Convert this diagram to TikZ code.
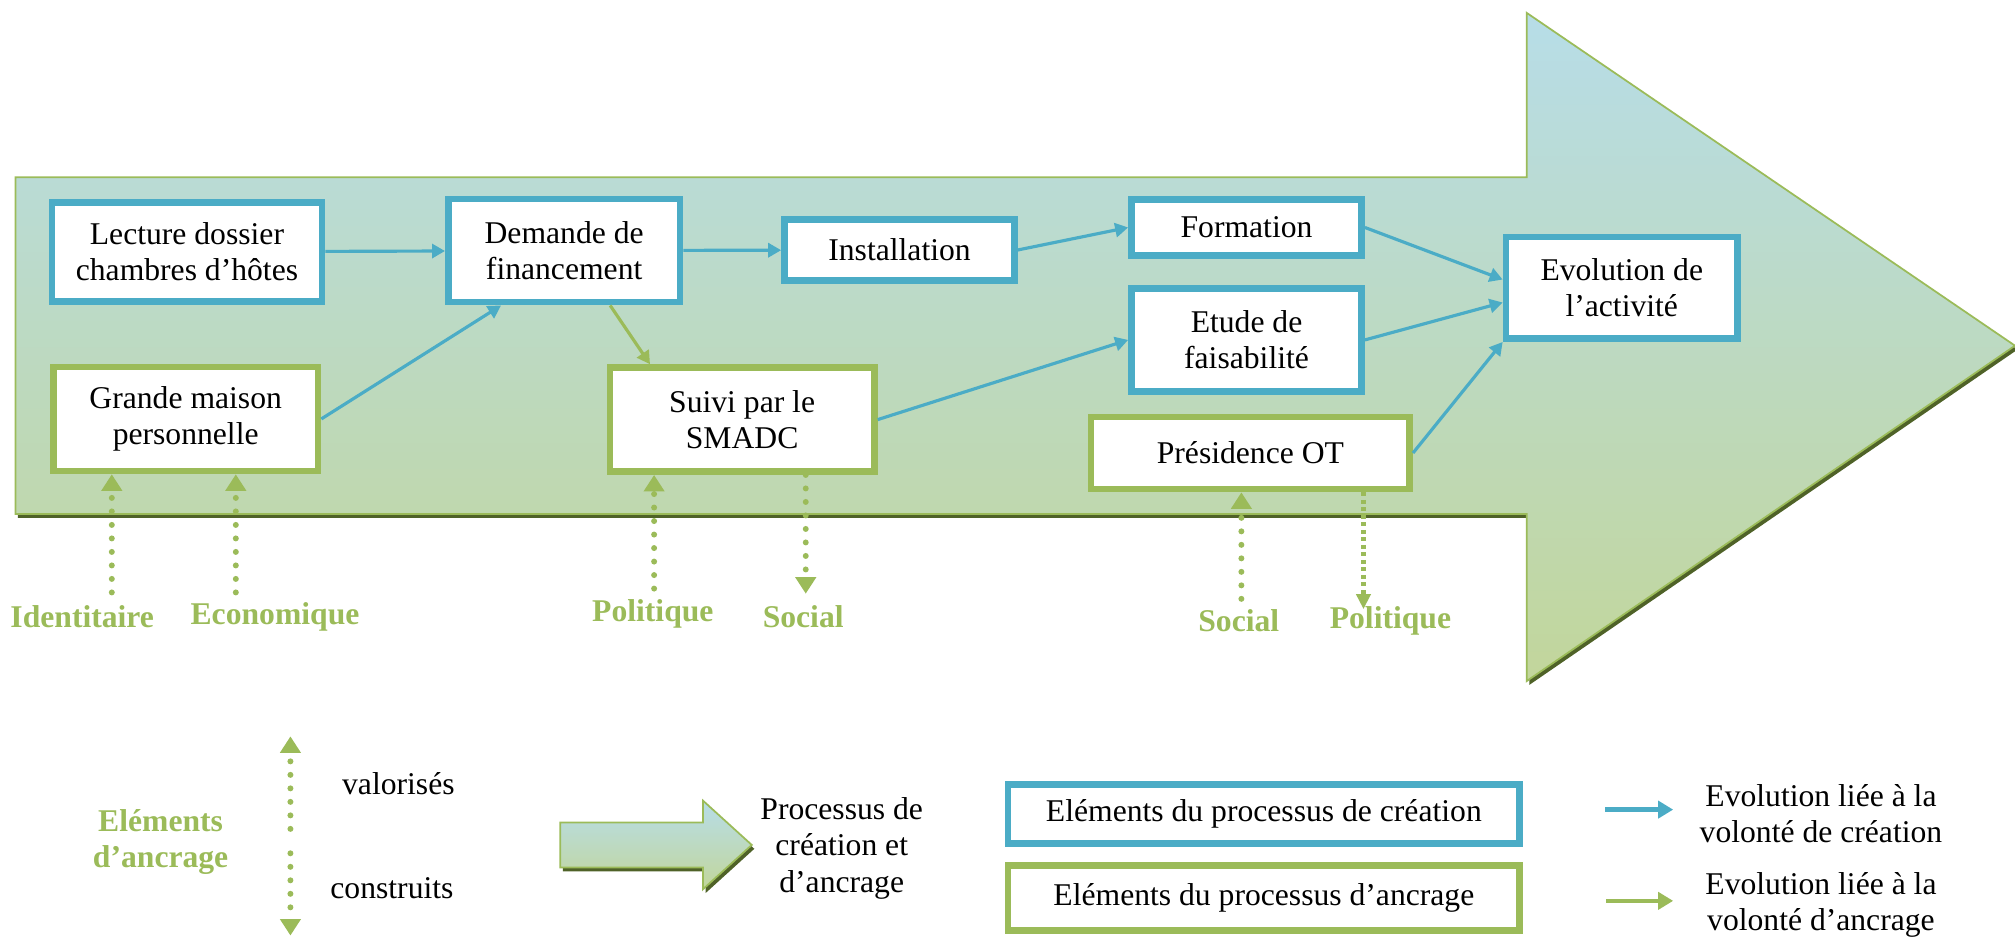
\documentclass[tikz,border=0pt]{standalone}
\usepackage{fontspec}
\setmainfont{Liberation Serif}
\usetikzlibrary{positioning, calc, arrows.meta}
\definecolor{creablue}{RGB}{75,172,198}
\definecolor{ancrgreen}{RGB}{155,187,89}
\definecolor{shadowgreen}{RGB}{79,98,40}
\definecolor{toplight}{RGB}{183,221,232}
\definecolor{bottomlight}{RGB}{194,214,155}

\begin{document}
\begin{tikzpicture}[
        x=0.0257cm, y=-0.0257cm,
        font=\fontsize{18}{20.7}\selectfont,
        plain/.style={align=center},
        creabox/.style={rectangle, draw=creablue, fill=white, line width=3.8pt, align=center, inner sep=2pt},
        ancrbox/.style={rectangle, draw=ancrgreen, fill=white, line width=3.8pt, align=center, inner sep=2pt},
        crea/.style={-{Triangle[length=0.26cm, width=0.28cm]}, draw=creablue, line width=1.8pt},
        ancr/.style={-{Triangle[length=0.26cm, width=0.28cm]}, draw=ancrgreen, line width=1.8pt},
        keycrea/.style={-{Triangle[length=0.3cm, width=0.34cm]}, draw=creablue, line width=2.6pt},
        keyancr/.style={-{Triangle[length=0.3cm, width=0.34cm]}, draw=ancrgreen, line width=2.6pt},
        dots/.style={-{Triangle[length=0.33cm, width=0.4cm]}, draw=ancrgreen, line width=3.4pt, line cap=round, dash pattern=on 0pt off 0.27cm},
        sqdots/.style={-{Triangle[length=0.3cm, width=0.28cm]}, draw=ancrgreen, line width=2.6pt, dash pattern=on 0.08cm off 0.07cm},
        tag/.style={text=ancrgreen, font=\fontsize{18}{20.7}\selectfont\bfseries, align=center},
        bigarrow/.style={draw=ancrgreen, line width=1pt, top color=toplight, bottom color=bottomlight}
    ]
        \useasboundingbox (0,0) rectangle (1568,730);

        % process arrow
        \fill[shadowgreen, shift={(2,3)}] (12,138) -- (1188,138) -- (1188,10) -- (1568,269) -- (1188,530) -- (1188,400) -- (12,400) -- cycle;
        \draw[bigarrow] (12,138) -- (1188,138) -- (1188,10) -- (1568,269) -- (1188,530) -- (1188,400) -- (12,400) -- cycle;

        % elements
        \node[creabox, minimum width=5.40cm, minimum height=1.98cm] (LECTURE) at (145.5,196) {Lecture dossier\\chambres d’hôtes};
        \node[ancrbox, minimum width=5.29cm, minimum height=2.08cm] (MAISON) at (144.5,326) {Grande maison\\personnelle};
        \node[creabox, minimum width=4.63cm, minimum height=2.06cm] (DEMANDE) at (439,195) {Demande de\\financement};
        \node[creabox, minimum width=4.60cm, minimum height=1.21cm] (INSTALL) at (700,194.5) {Installation};
        \node[ancrbox, minimum width=5.29cm, minimum height=2.08cm] (SUIVI) at (577.5,326.5) {Suivi par le\\SMADC};
        \node[creabox, minimum width=4.60cm, minimum height=1.13cm] (FORMATION) at (970,177) {Formation};
        \node[creabox, minimum width=4.60cm, minimum height=2.06cm, below=0.52cm of FORMATION] (ETUDE) {Etude de\\faisabilité};
        \node[ancrbox, minimum width=6.37cm, minimum height=1.44cm] (PRESIDENCE) at (973,352.5) {Présidence OT};
        \node[creabox, minimum width=4.63cm, minimum height=2.03cm] (EVOLUTION) at (1262,224) {Evolution de\\l’activité};

        \draw[crea] (LECTURE) -- (DEMANDE);
        \draw[crea] (MAISON.east) -- (DEMANDE.221);
        \draw[crea] (DEMANDE) -- (INSTALL);
        \draw[crea] (INSTALL.east) -- (FORMATION.west);
        \draw[ancr] (DEMANDE.310) -- (SUIVI.149);
        \draw[crea] (SUIVI.east) -- (ETUDE.west);
        \draw[crea] (FORMATION.east) -- (EVOLUTION.176);
        \draw[crea] (ETUDE.east) -- (EVOLUTION.187);
        \draw[crea] (PRESIDENCE.east) -- (EVOLUTION.south west);

        % anchoring elements
        \node[tag] (IDENT) at (64,480) {Identitaire};
        \node[tag] (ECO) at (214,480) {Economique};
        \node[tag] (POL1) at (508,478) {Politique};
        \node[tag] (SOC1) at (625,480) {Social};
        \node[tag] (SOC2) at (964,483) {Social};
        \node[tag] (POL2) at (1082,483) {Politique};

        \coordinate (IDENT-END) at (87,461);
        \coordinate (ECO-END) at (183.5,461);
        \coordinate (POL1-END) at (509,458);
        \coordinate (SOC1-END) at (627,462);
        \coordinate (SOC2-END) at (966,466);
        \coordinate (POL2-END) at (1061,474);
        \draw[dots] (IDENT-END) -- (IDENT-END |- MAISON.south);
        \draw[dots] (ECO-END) -- (ECO-END |- MAISON.south);
        \draw[dots] (POL1-END) -- (POL1-END |- SUIVI.south);
        \draw[dots] (SOC1-END |- SUIVI.south) -- (SOC1-END);
        \draw[dots] (SOC2-END) -- (SOC2-END |- PRESIDENCE.south);
        \draw[sqdots] (POL2-END |- PRESIDENCE.south) -- (POL2-END);

        % legend
        \node[tag] (ELEM) at (125,655) {Eléments\\d’ancrage};
        \coordinate (LEG-UP) at (226,645);
        \coordinate (LEG-TOP) at (226,573);
        \coordinate (LEG-DOWN) at (226,664);
        \coordinate (LEG-BOT) at (226,728);
        \draw[dots] (LEG-UP) -- (LEG-TOP);
        \draw[dots] (LEG-DOWN) -- (LEG-BOT);
        \node[plain] (VALOR) at (310,610) {valorisés};
        \node[plain] (CONSTR) at (305,691) {construits};

        \fill[shadowgreen, shift={(2,3)}] (436,640) -- (547,640) -- (547,623) -- (585,657.5) -- (547,692) -- (547,675) -- (436,675) -- cycle;
        \draw[bigarrow] (436,640) -- (547,640) -- (547,623) -- (585,657.5) -- (547,692) -- (547,675) -- (436,675) -- cycle;
        \node[plain] (PROC) at (655,660) {Processus de\\création et\\d’ancrage};

        \node[creabox, minimum width=10.23cm, minimum height=1.18cm] (LEGCREA) at (983.5,633.5) {Eléments du processus de création};
        \node[ancrbox, minimum width=10.23cm, minimum height=1.29cm, below=0.31cm of LEGCREA] (LEGANCR) {Eléments du processus d’ancrage};

        \coordinate (KEYCREA-A) at (1249,630);
        \coordinate (KEYCREA-B) at (1302,630);
        \coordinate (KEYANCR-A) at (1250,701);
        \coordinate (KEYANCR-B) at (1302,701);
        \draw[keycrea] (KEYCREA-A) -- (KEYCREA-B);
        \draw[keyancr] (KEYANCR-A) -- (KEYANCR-B);
        \node[plain] (EVOLCREA) at (1417,633) {Evolution liée à la\\volonté de création};
        \node[plain] (EVOLANCR) at (1417,704) {Evolution liée à la\\volonté d’ancrage};
    \end{tikzpicture}
\end{document}
